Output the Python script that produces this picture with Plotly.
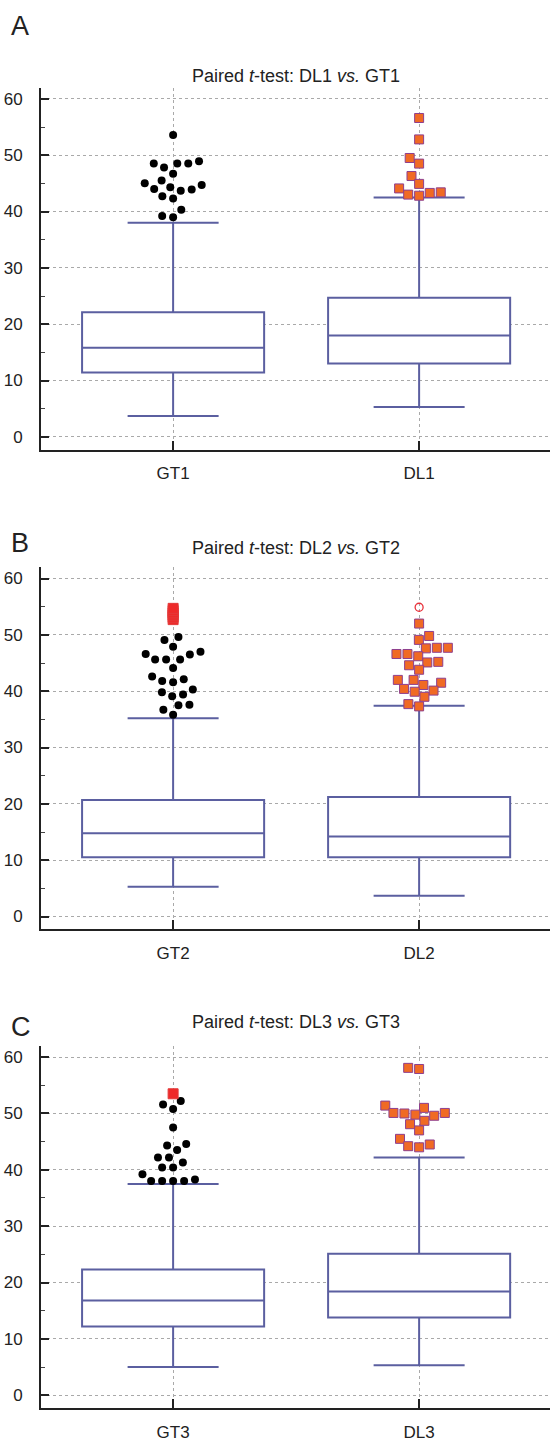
import math
import plotly.graph_objects as go

# ---------------- data ----------------
panel_letters = ["A", "B", "C"]
titles = ["Paired <i>t</i>-test: DL1 <i>vs.</i> GT1",
          "Paired <i>t</i>-test: DL2 <i>vs.</i> GT2",
          "Paired <i>t</i>-test: DL3 <i>vs.</i> GT3"]
categories = [["GT1", "DL1"], ["GT2", "DL2"], ["GT3", "DL3"]]

# box statistics per panel: [GT, DL]
q1 = [[11.4, 13.0], [10.5, 10.5], [12.2, 13.8]]
median = [[15.8, 18.0], [14.8, 14.2], [16.8, 18.4]]
q3 = [[22.1, 24.7], [20.7, 21.2], [22.3, 25.1]]
lower_whisker = [[3.7, 5.3], [5.3, 3.7], [5.0, 5.3]]
upper_whisker = [[38.0, 42.5], [35.2, 37.4], [37.5, 42.2]]

# outside values
gt1_out = [53.6, 48.9, 48.5, 48.5, 48.5, 47.8, 46.7, 45.5, 45.0, 44.7, 44.3,
           44.0, 43.9, 43.7, 42.7, 42.3, 40.3, 39.2, 39.0]
dl1_out = [56.6, 52.8, 49.5, 48.5, 46.3, 44.9, 44.1, 43.4, 43.3, 43.0, 42.8]
gt2_out = [49.6, 49.1, 47.9, 47.0, 46.6, 46.5, 45.6, 45.6, 45.6, 44.1, 42.6,
           42.1, 41.8, 41.6, 40.3, 39.8, 39.4, 39.1, 37.6, 37.5, 36.7, 35.8]
dl2_out = [52.0, 49.8, 49.1, 47.7, 47.7, 47.6, 46.6, 46.6, 46.2, 45.2, 45.1,
           44.6, 43.8, 42.0, 42.0, 41.5, 41.1, 40.4, 40.1, 39.9, 39.0, 37.7, 37.3]
gt3_out = [52.2, 51.6, 50.8, 47.5, 44.6, 44.3, 43.5, 42.2, 42.2, 41.3, 40.4,
           40.4, 39.2, 38.3, 38.0, 38.0, 38.0, 38.0]
dl3_out = [58.1, 57.9, 51.4, 51.0, 50.1, 50.1, 50.0, 49.8, 49.6, 48.7, 48.1,
           47.0, 45.5, 44.5, 44.2, 44.0]
# far-out values
gt2_far = [52.7, 53.1, 53.5, 53.9, 54.3, 54.7]
dl2_far = [54.9]
gt3_far = [53.5]

gt_out = [gt1_out, gt2_out, gt3_out]
dl_out = [dl1_out, dl2_out, dl3_out]
gt_far = [[], gt2_far, gt3_far]
dl_far = [[], dl2_far, []]

y_ticks = [0, 10, 20, 30, 40, 50, 60]

# ---------------- layout constants ----------------
W, H = 550, 1442
Y_RANGE = [-2.3, 62.0]
X_RANGE = [-0.537, 1.532]
x_left_px = 41
panel_px = [(88, 452), (570, 934), (1051, 1415)]
title_px = [76, 551, 1027]
letter_px = [26, 546, 1032]

plot_w = W - x_left_px
px_per_x = plot_w / (X_RANGE[1] - X_RANGE[0])
px_per_y = (panel_px[0][1] - panel_px[0][0]) / (Y_RANGE[1] - Y_RANGE[0])

BOX_COLOR = "#5B5FA0"
GRID = "#A9A9A9"
FONT = "Liberation Sans, Arial, sans-serif"


def swarm(values, d):
    """Continuous beeswarm offsets (in px) for a list of values."""
    placed = []
    offs = [0.0] * len(values)
    order = sorted(range(len(values)), key=lambda i: values[i])
    for i in order:
        y = values[i] * px_per_y
        ivs = []
        for xj, yj in placed:
            dy = abs(y - yj)
            if dy < d:
                h = math.sqrt(d * d - dy * dy)
                ivs.append((xj - h, xj + h))
        cands = [0.0] + [a for a, b in ivs] + [b for a, b in ivs]
        cands.sort(key=lambda c: (abs(c), c))
        chosen = 0.0
        for c in cands:
            if all(not (a + 1e-6 < c < b - 1e-6) for a, b in ivs):
                chosen = c
                break
        placed.append((chosen, y))
        offs[i] = chosen
    return offs


fig = go.Figure()
annotations = []

for p in range(3):
    suffix = "" if p == 0 else str(p + 1)
    xa, ya = "x" + suffix, "y" + suffix
    top, bot = panel_px[p]

    fig.add_trace(go.Box(
        x=[0, 1], q1=q1[p], median=median[p], q3=q3[p],
        lowerfence=lower_whisker[p], upperfence=upper_whisker[p],
        width=0.74, whiskerwidth=0.5, boxpoints=False,
        line=dict(color=BOX_COLOR, width=2), fillcolor="white",
        showlegend=False, hoverinfo="skip", xaxis=xa, yaxis=ya))

    # GT outside values: black circles
    offs = swarm(gt_out[p], 11.0)
    fig.add_trace(go.Scatter(
        x=[0 + o / px_per_x for o in offs], y=gt_out[p], mode="markers",
        marker=dict(symbol="circle", size=8, color="black"),
        showlegend=False, hoverinfo="skip", xaxis=xa, yaxis=ya))

    # DL outside values: orange squares
    offs = swarm(dl_out[p], 11.0)
    fig.add_trace(go.Scatter(
        x=[1 + o / px_per_x for o in offs], y=dl_out[p], mode="markers",
        marker=dict(symbol="square", size=9, color="#F06A24",
                    line=dict(color="#8E3F8E", width=1)),
        showlegend=False, hoverinfo="skip", xaxis=xa, yaxis=ya))

    if gt_far[p]:
        fig.add_trace(go.Scatter(
            x=[0] * len(gt_far[p]), y=gt_far[p], mode="markers",
            marker=dict(symbol="square", size=10, color="#EE2A2A",
                        line=dict(color="#E33A3A", width=1)),
            showlegend=False, hoverinfo="skip", xaxis=xa, yaxis=ya))
    if dl_far[p]:
        fig.add_trace(go.Scatter(
            x=[1] * len(dl_far[p]), y=dl_far[p], mode="markers",
            marker=dict(symbol="circle-open", size=8, color="#E8313A",
                        line=dict(color="#E8313A", width=1.3)),
            showlegend=False, hoverinfo="skip", xaxis=xa, yaxis=ya))

    dom_y = [1 - bot / H, 1 - top / H]
    xkey = "xaxis" + suffix
    ykey = "yaxis" + suffix
    fig.update_layout({
        xkey: dict(domain=[x_left_px / W, 1.0], range=X_RANGE,
                   anchor=ya, tickvals=[0, 1], ticktext=categories[p],
                   showline=True, linecolor="#222", linewidth=2,
                   ticks="inside", ticklen=9, tickwidth=1.5, tickcolor="#222",
                   showgrid=True, gridcolor=GRID, griddash="dot", gridwidth=1,
                   zeroline=False, ticklabelstandoff=7,
                   tickfont=dict(family=FONT, size=17, color="#222"),
                   fixedrange=True),
        ykey: dict(domain=dom_y, range=Y_RANGE, anchor=xa,
                   tickvals=y_ticks, showline=True, linecolor="#222",
                   linewidth=2, ticks="inside", ticklen=8, tickwidth=2,
                   tickcolor="#222",
                   minor=dict(dtick=5, tick0=0, ticks="inside", ticklen=4,
                              tickwidth=1, tickcolor="#444", showgrid=False),
                   showgrid=True, gridcolor=GRID, griddash="dot", gridwidth=1,
                   zeroline=False, ticklabelstandoff=13,
                   tickfont=dict(family=FONT, size=17, color="#222"),
                   fixedrange=True),
    })

    annotations.append(dict(
        text=titles[p], xref="paper", yref="paper",
        x=(x_left_px / W + 1) / 2, y=1 - title_px[p] / H,
        xanchor="center", yanchor="middle", showarrow=False,
        font=dict(family=FONT, size=18, color="#222")))
    annotations.append(dict(
        text=panel_letters[p], xref="paper", yref="paper",
        x=9 / W, y=1 - letter_px[p] / H,
        xanchor="left", yanchor="middle", showarrow=False,
        font=dict(family=FONT, size=27, color="#222")))

fig.update_layout(
    width=W, height=H, margin=dict(l=0, r=0, t=0, b=0),
    paper_bgcolor="white", plot_bgcolor="white",
    boxmode="overlay", annotations=annotations, showlegend=False)

fig.write_html("out.html", config={"displayModeBar": False})
